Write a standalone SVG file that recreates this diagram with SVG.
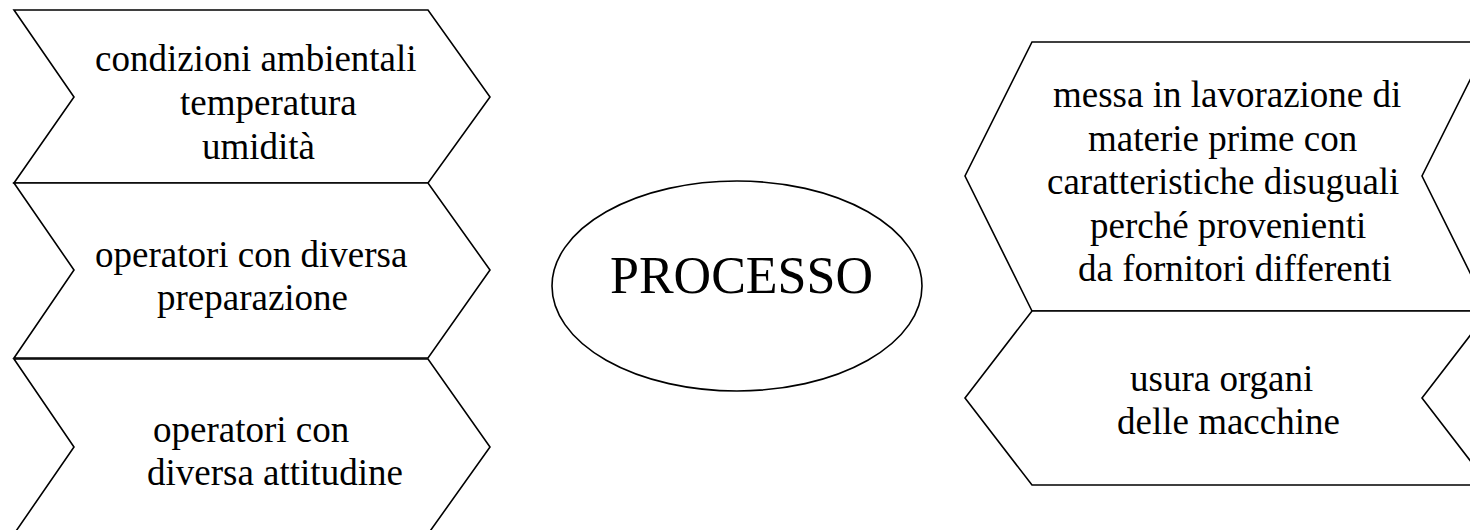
<svg xmlns="http://www.w3.org/2000/svg" width="1470" height="530" viewBox="0 0 1470 530">
<style>
.s{fill:#fff;stroke:#000;stroke-width:1.6;stroke-linejoin:miter}
.t{font-family:"Liberation Serif","Times New Roman",serif;font-size:37px;fill:#000}
.big{font-family:"Liberation Serif","Times New Roman",serif;font-size:52px;fill:#000}
</style>
<rect width="1470" height="530" fill="#fff"/>
<g id="connectors"></g>
<g id="left1">
<polygon class="s" points="14,10 428,10 490,97 428,183 14,183 74,97"/>
<text class="t" x="95" y="71">condizioni ambientali</text>
<text class="t" x="180" y="115">temperatura</text>
<text class="t" x="202" y="159">umidità</text>
</g>
<g id="left2">
<polygon class="s" points="14,183 428,183 490,270 428,358 14,358 74,270"/>
<text class="t" x="95" y="267">operatori con diversa</text>
<text class="t" x="157" y="310">preparazione</text>
</g>
<g id="left3">
<polygon class="s" points="14,359 428,359 490,447 428,534 14,534 74,447"/>
<text class="t" x="153" y="442">operatori con</text>
<text class="t" x="147" y="485">diversa attitudine</text>
</g>
<g id="processo">
<ellipse class="s" cx="737" cy="286" rx="185" ry="105"/>
<text class="big" x="610" y="293">PROCESSO</text>
</g>
<g id="right1">
<polygon class="s" points="1032,42 1489,42 1422,176 1489,311 1032,311 965,176"/>
<text class="t" x="1053" y="107">messa in lavorazione di</text>
<text class="t" x="1088" y="151">materie prime con</text>
<text class="t" x="1047" y="194">caratteristiche disuguali</text>
<text class="t" x="1090" y="238">perché provenienti</text>
<text class="t" x="1078" y="281">da fornitori differenti</text>
</g>
<g id="right2">
<polygon class="s" points="1032,311 1489,311 1422,398 1489,485 1032,485 965,398"/>
<text class="t" x="1130" y="391">usura organi</text>
<text class="t" x="1117" y="434">delle macchine</text>
</g>
</svg>
